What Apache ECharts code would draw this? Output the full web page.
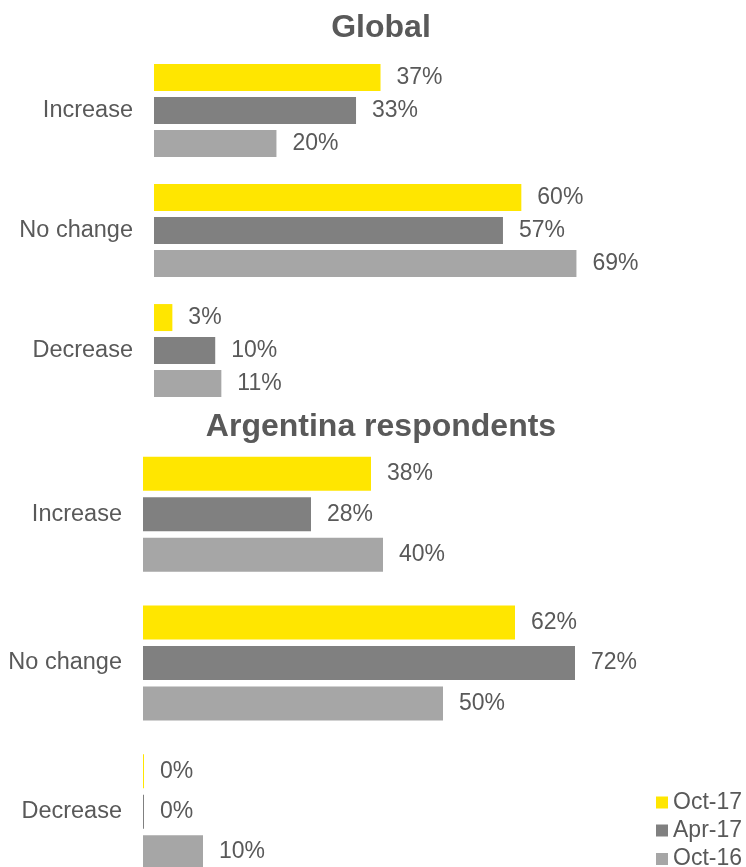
<!DOCTYPE html>
<html>
<head>
<meta charset="utf-8">
<script src="https://cdn.jsdelivr.net/npm/echarts@6/dist/echarts.min.js"></script>
<style>
  html, body { margin: 0; padding: 0; background: #ffffff; }
  #chart { width: 746px; height: 867px; }
</style>
</head>
<body>
<div id="chart"></div>
<script>
// Answer categories (shared by both panels)
const categories = ['Increase', 'No change', 'Decrease'];
// Survey waves
const waves = ['Oct-17', 'Apr-17', 'Oct-16'];

// Global panel, % of respondents
const globalOct17 = [37, 60, 3];
const globalApr17 = [33, 57, 10];
const globalOct16 = [20, 69, 11];

// Argentina panel, % of respondents
const argOct17 = [38, 62, 0];
const argApr17 = [28, 72, 0];
const argOct16 = [40, 50, 10];

const panelTitles = ['Global', 'Argentina respondents'];

const colors = { 'Oct-17': '#FFE600', 'Apr-17': '#808080', 'Oct-16': '#A6A6A6' };
const textColor = '#595959';
const fontFamily = '"Liberation Sans", Arial, sans-serif';

function barSeries(name, data, gridIndex, barWidth, barGap) {
  return {
    type: 'bar',
    name: name,
    xAxisIndex: gridIndex,
    yAxisIndex: gridIndex,
    data: data,
    barWidth: barWidth,
    barGap: barGap,
    barMinHeight: 1,
    itemStyle: { color: colors[name] },
    label: {
      show: true,
      position: 'right',
      distance: 16,
      formatter: '{c}%',
      color: textColor,
      fontSize: 23,
      fontFamily: fontFamily
    },
    emphasis: { disabled: true },
    animation: false
  };
}

function valueAxis(gridIndex) {
  return {
    type: 'value',
    gridIndex: gridIndex,
    min: 0,
    max: 90,
    show: false
  };
}

function categoryAxis(gridIndex) {
  return {
    type: 'category',
    gridIndex: gridIndex,
    data: categories,
    inverse: true,
    axisLine: { show: false },
    axisTick: { show: false },
    splitLine: { show: false },
    axisLabel: {
      margin: 21,
      color: textColor,
      fontSize: 23.5,
      fontFamily: fontFamily
    }
  };
}

// One legend block per wave, stacked in the lower right corner
function legendEntry(name, top) {
  return {
    orient: 'vertical',
    left: 656,
    top: top,
    padding: 0,
    itemWidth: 12,
    itemHeight: 12,
    icon: 'rect',
    data: [name],
    selectedMode: false,
    textStyle: { color: textColor, fontSize: 23, fontFamily: fontFamily }
  };
}

const chart = echarts.init(document.getElementById('chart'), null, { renderer: 'canvas' });

chart.setOption({
  backgroundColor: '#ffffff',
  animation: false,
  title: [
    {
      text: panelTitles[0],
      left: 376,
      top: 7,
      textAlign: 'center',
      textStyle: { color: textColor, fontSize: 32, fontWeight: 'bold', fontFamily: fontFamily }
    },
    {
      text: panelTitles[1],
      left: 376,
      top: 406,
      textAlign: 'center',
      textStyle: { color: textColor, fontSize: 32, fontWeight: 'bold', fontFamily: fontFamily }
    }
  ],
  legend: [
    legendEntry(waves[0], 791),
    legendEntry(waves[1], 819),
    legendEntry(waves[2], 847.5)
  ],
  grid: [
    { left: 154, top: 50.5, width: 551, height: 360, outerBoundsMode: 'none' },
    { left: 143, top: 440, width: 540, height: 446, outerBoundsMode: 'none' }
  ],
  xAxis: [valueAxis(0), valueAxis(1)],
  yAxis: [categoryAxis(0), categoryAxis(1)],
  series: [
    barSeries(waves[0], globalOct17, 0, 27, '22%'),
    barSeries(waves[1], globalApr17, 0, 27, '22%'),
    barSeries(waves[2], globalOct16, 0, 27, '22%'),
    barSeries(waves[0], argOct17, 1, 34, '19%'),
    barSeries(waves[1], argApr17, 1, 34, '19%'),
    barSeries(waves[2], argOct16, 1, 34, '19%')
  ]
});
</script>
</body>
</html>
